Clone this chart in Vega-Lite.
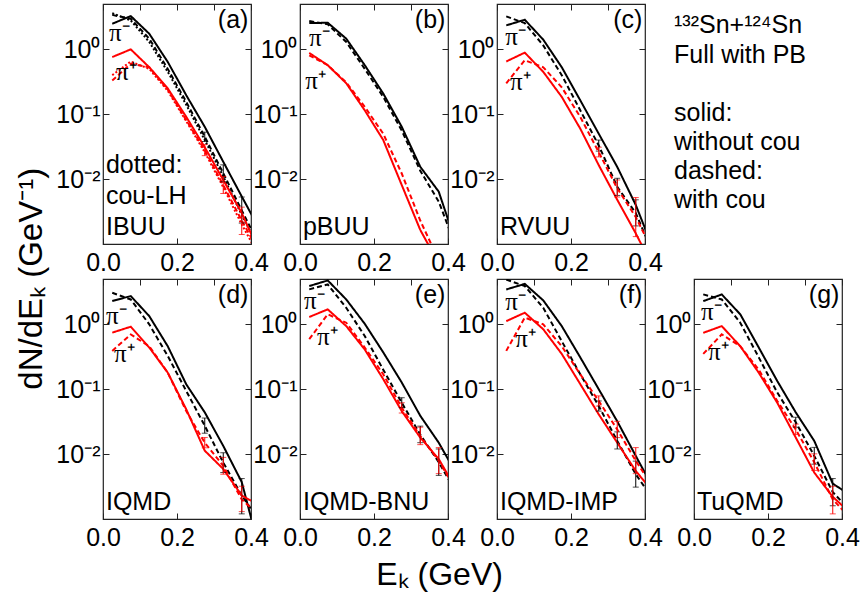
{
"$schema":"https://vega.github.io/schema/vega-lite/v6.json",
"background":"white",
"padding":{"left":16,"top":2,"right":2,"bottom":5},
"config":{
 "font":"Liberation Sans",
 "view":{"stroke":"#222","strokeWidth":1.2},
 "axis":{"grid":false,"domain":false,"tickSize":-6,"tickColor":"#222","tickWidth":1,"labelFontSize":25,"labelFont":"Liberation Sans","labelColor":"black","labelPadding":9},
 "axisX":{"labelPadding":12},
 "text":{"fontSize":25,"font":"Liberation Sans","color":"black","baseline":"alphabetic"},
 "title":{"fontWeight":"normal","color":"black","font":"Liberation Sans","fontSize":32}
},
"datasets":{
"curves":[
{"m":"a","c":"pi-","s":"solid","E":0.025,"v":2.48},{"m":"a","c":"pi-","s":"solid","E":0.075,"v":3.26},{"m":"a","c":"pi-","s":"solid","E":0.125,"v":1.74},{"m":"a","c":"pi-","s":"solid","E":0.175,"v":0.64},{"m":"a","c":"pi-","s":"solid","E":0.225,"v":0.196},{"m":"a","c":"pi-","s":"solid","E":0.275,"v":0.064},{"m":"a","c":"pi-","s":"solid","E":0.325,"v":0.0185},{"m":"a","c":"pi-","s":"solid","E":0.375,"v":0.0054},{"m":"a","c":"pi-","s":"solid","E":0.425,"v":0.0016},
{"m":"a","c":"pi-","s":"dashed","E":0.025,"v":3.4},{"m":"a","c":"pi-","s":"dashed","E":0.075,"v":2.96},{"m":"a","c":"pi-","s":"dashed","E":0.125,"v":1.46},{"m":"a","c":"pi-","s":"dashed","E":0.175,"v":0.5},{"m":"a","c":"pi-","s":"dashed","E":0.225,"v":0.155},{"m":"a","c":"pi-","s":"dashed","E":0.275,"v":0.045},{"m":"a","c":"pi-","s":"dashed","E":0.325,"v":0.0123},{"m":"a","c":"pi-","s":"dashed","E":0.375,"v":0.0033},{"m":"a","c":"pi-","s":"dashed","E":0.425,"v":0.0009},
{"m":"a","c":"pi-","s":"dotted","E":0.025,"v":3.6},{"m":"a","c":"pi-","s":"dotted","E":0.075,"v":2.8},{"m":"a","c":"pi-","s":"dotted","E":0.125,"v":1.3},{"m":"a","c":"pi-","s":"dotted","E":0.175,"v":0.45},{"m":"a","c":"pi-","s":"dotted","E":0.225,"v":0.14},{"m":"a","c":"pi-","s":"dotted","E":0.275,"v":0.04},{"m":"a","c":"pi-","s":"dotted","E":0.325,"v":0.011},{"m":"a","c":"pi-","s":"dotted","E":0.375,"v":0.0028},{"m":"a","c":"pi-","s":"dotted","E":0.425,"v":0.0008},
{"m":"a","c":"pi+","s":"solid","E":0.025,"v":0.76},{"m":"a","c":"pi+","s":"solid","E":0.075,"v":1.0},{"m":"a","c":"pi+","s":"solid","E":0.125,"v":0.53},{"m":"a","c":"pi+","s":"solid","E":0.175,"v":0.25},{"m":"a","c":"pi+","s":"solid","E":0.225,"v":0.091},{"m":"a","c":"pi+","s":"solid","E":0.275,"v":0.031},{"m":"a","c":"pi+","s":"solid","E":0.325,"v":0.0097},{"m":"a","c":"pi+","s":"solid","E":0.375,"v":0.003},{"m":"a","c":"pi+","s":"solid","E":0.425,"v":0.0007},
{"m":"a","c":"pi+","s":"dashed","E":0.025,"v":0.33},{"m":"a","c":"pi+","s":"dashed","E":0.075,"v":0.6},{"m":"a","c":"pi+","s":"dashed","E":0.125,"v":0.53},{"m":"a","c":"pi+","s":"dashed","E":0.175,"v":0.24},{"m":"a","c":"pi+","s":"dashed","E":0.225,"v":0.081},{"m":"a","c":"pi+","s":"dashed","E":0.275,"v":0.028},{"m":"a","c":"pi+","s":"dashed","E":0.325,"v":0.0081},{"m":"a","c":"pi+","s":"dashed","E":0.375,"v":0.0023},{"m":"a","c":"pi+","s":"dashed","E":0.425,"v":0.0007},
{"m":"a","c":"pi+","s":"dotted","E":0.025,"v":0.4},{"m":"a","c":"pi+","s":"dotted","E":0.075,"v":0.65},{"m":"a","c":"pi+","s":"dotted","E":0.125,"v":0.5},{"m":"a","c":"pi+","s":"dotted","E":0.175,"v":0.23},{"m":"a","c":"pi+","s":"dotted","E":0.225,"v":0.078},{"m":"a","c":"pi+","s":"dotted","E":0.275,"v":0.026},{"m":"a","c":"pi+","s":"dotted","E":0.325,"v":0.0075},{"m":"a","c":"pi+","s":"dotted","E":0.375,"v":0.002},{"m":"a","c":"pi+","s":"dotted","E":0.425,"v":0.0006},
{"m":"b","c":"pi-","s":"solid","E":0.025,"v":2.54},{"m":"b","c":"pi-","s":"solid","E":0.075,"v":2.57},{"m":"b","c":"pi-","s":"solid","E":0.125,"v":1.46},{"m":"b","c":"pi-","s":"solid","E":0.175,"v":0.57},{"m":"b","c":"pi-","s":"solid","E":0.225,"v":0.208},{"m":"b","c":"pi-","s":"solid","E":0.275,"v":0.064},{"m":"b","c":"pi-","s":"solid","E":0.325,"v":0.0155},{"m":"b","c":"pi-","s":"solid","E":0.375,"v":0.0064},{"m":"b","c":"pi-","s":"solid","E":0.425,"v":0.0009},
{"m":"b","c":"pi-","s":"dashed","E":0.025,"v":2.73},{"m":"b","c":"pi-","s":"dashed","E":0.075,"v":2.43},{"m":"b","c":"pi-","s":"dashed","E":0.125,"v":1.3},{"m":"b","c":"pi-","s":"dashed","E":0.175,"v":0.5},{"m":"b","c":"pi-","s":"dashed","E":0.225,"v":0.185},{"m":"b","c":"pi-","s":"dashed","E":0.275,"v":0.056},{"m":"b","c":"pi-","s":"dashed","E":0.325,"v":0.0135},{"m":"b","c":"pi-","s":"dashed","E":0.375,"v":0.0045},{"m":"b","c":"pi-","s":"dashed","E":0.425,"v":0.0008},
{"m":"b","c":"pi+","s":"solid","E":0.025,"v":0.88},{"m":"b","c":"pi+","s":"solid","E":0.075,"v":0.57},{"m":"b","c":"pi+","s":"solid","E":0.125,"v":0.3},{"m":"b","c":"pi+","s":"solid","E":0.175,"v":0.115},{"m":"b","c":"pi+","s":"solid","E":0.225,"v":0.04},{"m":"b","c":"pi+","s":"solid","E":0.275,"v":0.0081},{"m":"b","c":"pi+","s":"solid","E":0.325,"v":0.00165},{"m":"b","c":"pi+","s":"solid","E":0.375,"v":0.0005},{"m":"b","c":"pi+","s":"solid","E":0.425,"v":0.0002},
{"m":"b","c":"pi+","s":"dashed","E":0.025,"v":0.81},{"m":"b","c":"pi+","s":"dashed","E":0.075,"v":0.57},{"m":"b","c":"pi+","s":"dashed","E":0.125,"v":0.31},{"m":"b","c":"pi+","s":"dashed","E":0.175,"v":0.13},{"m":"b","c":"pi+","s":"dashed","E":0.225,"v":0.05},{"m":"b","c":"pi+","s":"dashed","E":0.275,"v":0.0122},{"m":"b","c":"pi+","s":"dashed","E":0.325,"v":0.0023},{"m":"b","c":"pi+","s":"dashed","E":0.375,"v":0.00056},{"m":"b","c":"pi+","s":"dashed","E":0.425,"v":0.0002},
{"m":"c","c":"pi-","s":"solid","E":0.025,"v":2.34},{"m":"c","c":"pi-","s":"solid","E":0.075,"v":2.86},{"m":"c","c":"pi-","s":"solid","E":0.125,"v":1.41},{"m":"c","c":"pi-","s":"solid","E":0.175,"v":0.53},{"m":"c","c":"pi-","s":"solid","E":0.225,"v":0.164},{"m":"c","c":"pi-","s":"solid","E":0.275,"v":0.05},{"m":"c","c":"pi-","s":"solid","E":0.325,"v":0.0154},{"m":"c","c":"pi-","s":"solid","E":0.375,"v":0.004},{"m":"c","c":"pi-","s":"solid","E":0.425,"v":0.00076},
{"m":"c","c":"pi-","s":"dashed","E":0.025,"v":3.22},{"m":"c","c":"pi-","s":"dashed","E":0.075,"v":2.54},{"m":"c","c":"pi-","s":"dashed","E":0.125,"v":1.15},{"m":"c","c":"pi-","s":"dashed","E":0.175,"v":0.4},{"m":"c","c":"pi-","s":"dashed","E":0.225,"v":0.115},{"m":"c","c":"pi-","s":"dashed","E":0.275,"v":0.033},{"m":"c","c":"pi-","s":"dashed","E":0.325,"v":0.0076},{"m":"c","c":"pi-","s":"dashed","E":0.375,"v":0.003},{"m":"c","c":"pi-","s":"dashed","E":0.425,"v":0.00064},
{"m":"c","c":"pi+","s":"solid","E":0.025,"v":0.65},{"m":"c","c":"pi+","s":"solid","E":0.075,"v":0.89},{"m":"c","c":"pi+","s":"solid","E":0.125,"v":0.45},{"m":"c","c":"pi+","s":"solid","E":0.175,"v":0.185},{"m":"c","c":"pi+","s":"solid","E":0.225,"v":0.06},{"m":"c","c":"pi+","s":"solid","E":0.275,"v":0.0164},{"m":"c","c":"pi+","s":"solid","E":0.325,"v":0.0048},{"m":"c","c":"pi+","s":"solid","E":0.375,"v":0.00146},{"m":"c","c":"pi+","s":"solid","E":0.425,"v":0.0004},
{"m":"c","c":"pi+","s":"dashed","E":0.025,"v":0.3},{"m":"c","c":"pi+","s":"dashed","E":0.075,"v":0.68},{"m":"c","c":"pi+","s":"dashed","E":0.125,"v":0.53},{"m":"c","c":"pi+","s":"dashed","E":0.175,"v":0.26},{"m":"c","c":"pi+","s":"dashed","E":0.225,"v":0.091},{"m":"c","c":"pi+","s":"dashed","E":0.275,"v":0.026},{"m":"c","c":"pi+","s":"dashed","E":0.325,"v":0.0072},{"m":"c","c":"pi+","s":"dashed","E":0.375,"v":0.0026},{"m":"c","c":"pi+","s":"dashed","E":0.425,"v":0.0007},
{"m":"d","c":"pi-","s":"solid","E":0.025,"v":2.29},{"m":"d","c":"pi-","s":"solid","E":0.075,"v":2.73},{"m":"d","c":"pi-","s":"solid","E":0.125,"v":1.34},{"m":"d","c":"pi-","s":"solid","E":0.175,"v":0.46},{"m":"d","c":"pi-","s":"solid","E":0.225,"v":0.119},{"m":"d","c":"pi-","s":"solid","E":0.275,"v":0.044},{"m":"d","c":"pi-","s":"solid","E":0.325,"v":0.0134},{"m":"d","c":"pi-","s":"solid","E":0.375,"v":0.0037},{"m":"d","c":"pi-","s":"solid","E":0.425,"v":0.0003},
{"m":"d","c":"pi-","s":"dashed","E":0.025,"v":3.07},{"m":"d","c":"pi-","s":"dashed","E":0.075,"v":2.42},{"m":"d","c":"pi-","s":"dashed","E":0.125,"v":1.0},{"m":"d","c":"pi-","s":"dashed","E":0.175,"v":0.326},{"m":"d","c":"pi-","s":"dashed","E":0.225,"v":0.094},{"m":"d","c":"pi-","s":"dashed","E":0.275,"v":0.0274},{"m":"d","c":"pi-","s":"dashed","E":0.325,"v":0.0074},{"m":"d","c":"pi-","s":"dashed","E":0.375,"v":0.0023},{"m":"d","c":"pi-","s":"dashed","E":0.425,"v":0.0009},
{"m":"d","c":"pi+","s":"solid","E":0.025,"v":0.745},{"m":"d","c":"pi+","s":"solid","E":0.075,"v":0.92},{"m":"d","c":"pi+","s":"solid","E":0.125,"v":0.44},{"m":"d","c":"pi+","s":"solid","E":0.175,"v":0.18},{"m":"d","c":"pi+","s":"solid","E":0.225,"v":0.049},{"m":"d","c":"pi+","s":"solid","E":0.275,"v":0.0113},{"m":"d","c":"pi+","s":"solid","E":0.325,"v":0.0059},{"m":"d","c":"pi+","s":"solid","E":0.375,"v":0.0023},{"m":"d","c":"pi+","s":"solid","E":0.425,"v":0.0016},
{"m":"d","c":"pi+","s":"dashed","E":0.025,"v":0.39},{"m":"d","c":"pi+","s":"dashed","E":0.075,"v":0.7},{"m":"d","c":"pi+","s":"dashed","E":0.125,"v":0.46},{"m":"d","c":"pi+","s":"dashed","E":0.175,"v":0.18},{"m":"d","c":"pi+","s":"dashed","E":0.225,"v":0.046},{"m":"d","c":"pi+","s":"dashed","E":0.275,"v":0.015},{"m":"d","c":"pi+","s":"dashed","E":0.325,"v":0.0066},{"m":"d","c":"pi+","s":"dashed","E":0.375,"v":0.002},{"m":"d","c":"pi+","s":"dashed","E":0.425,"v":0.0011},
{"m":"e","c":"pi-","s":"solid","E":0.025,"v":3.89},{"m":"e","c":"pi-","s":"solid","E":0.075,"v":4.75},{"m":"e","c":"pi-","s":"solid","E":0.125,"v":2.42},{"m":"e","c":"pi-","s":"solid","E":0.175,"v":1.02},{"m":"e","c":"pi-","s":"solid","E":0.225,"v":0.37},{"m":"e","c":"pi-","s":"solid","E":0.275,"v":0.127},{"m":"e","c":"pi-","s":"solid","E":0.325,"v":0.039},{"m":"e","c":"pi-","s":"solid","E":0.375,"v":0.015},{"m":"e","c":"pi-","s":"solid","E":0.425,"v":0.0047},
{"m":"e","c":"pi-","s":"dashed","E":0.025,"v":3.46},{"m":"e","c":"pi-","s":"dashed","E":0.075,"v":4.12},{"m":"e","c":"pi-","s":"dashed","E":0.125,"v":1.8},{"m":"e","c":"pi-","s":"dashed","E":0.175,"v":0.66},{"m":"e","c":"pi-","s":"dashed","E":0.225,"v":0.2},{"m":"e","c":"pi-","s":"dashed","E":0.275,"v":0.062},{"m":"e","c":"pi-","s":"dashed","E":0.325,"v":0.02},{"m":"e","c":"pi-","s":"dashed","E":0.375,"v":0.0075},{"m":"e","c":"pi-","s":"dashed","E":0.425,"v":0.0024},
{"m":"e","c":"pi+","s":"solid","E":0.025,"v":1.3},{"m":"e","c":"pi+","s":"solid","E":0.075,"v":1.7},{"m":"e","c":"pi+","s":"solid","E":0.125,"v":0.94},{"m":"e","c":"pi+","s":"solid","E":0.175,"v":0.41},{"m":"e","c":"pi+","s":"solid","E":0.225,"v":0.143},{"m":"e","c":"pi+","s":"solid","E":0.275,"v":0.046},{"m":"e","c":"pi+","s":"solid","E":0.325,"v":0.018},{"m":"e","c":"pi+","s":"solid","E":0.375,"v":0.0084},{"m":"e","c":"pi+","s":"solid","E":0.425,"v":0.0027},
{"m":"e","c":"pi+","s":"dashed","E":0.025,"v":0.59},{"m":"e","c":"pi+","s":"dashed","E":0.075,"v":1.43},{"m":"e","c":"pi+","s":"dashed","E":0.125,"v":1.06},{"m":"e","c":"pi+","s":"dashed","E":0.175,"v":0.44},{"m":"e","c":"pi+","s":"dashed","E":0.225,"v":0.17},{"m":"e","c":"pi+","s":"dashed","E":0.275,"v":0.052},{"m":"e","c":"pi+","s":"dashed","E":0.325,"v":0.019},{"m":"e","c":"pi+","s":"dashed","E":0.375,"v":0.0079},{"m":"e","c":"pi+","s":"dashed","E":0.425,"v":0.0026},
{"m":"f","c":"pi-","s":"solid","E":0.025,"v":3.45},{"m":"f","c":"pi-","s":"solid","E":0.075,"v":4.2},{"m":"f","c":"pi-","s":"solid","E":0.125,"v":2.34},{"m":"f","c":"pi-","s":"solid","E":0.175,"v":0.94},{"m":"f","c":"pi-","s":"solid","E":0.225,"v":0.31},{"m":"f","c":"pi-","s":"solid","E":0.275,"v":0.1},{"m":"f","c":"pi-","s":"solid","E":0.325,"v":0.032},{"m":"f","c":"pi-","s":"solid","E":0.375,"v":0.0094},{"m":"f","c":"pi-","s":"solid","E":0.425,"v":0.0028},
{"m":"f","c":"pi-","s":"dashed","E":0.025,"v":4.9},{"m":"f","c":"pi-","s":"dashed","E":0.075,"v":3.9},{"m":"f","c":"pi-","s":"dashed","E":0.125,"v":1.8},{"m":"f","c":"pi-","s":"dashed","E":0.175,"v":0.55},{"m":"f","c":"pi-","s":"dashed","E":0.225,"v":0.17},{"m":"f","c":"pi-","s":"dashed","E":0.275,"v":0.055},{"m":"f","c":"pi-","s":"dashed","E":0.325,"v":0.016},{"m":"f","c":"pi-","s":"dashed","E":0.375,"v":0.0049},{"m":"f","c":"pi-","s":"dashed","E":0.425,"v":0.0019},
{"m":"f","c":"pi+","s":"solid","E":0.025,"v":1.12},{"m":"f","c":"pi+","s":"solid","E":0.075,"v":1.51},{"m":"f","c":"pi+","s":"solid","E":0.125,"v":0.84},{"m":"f","c":"pi+","s":"solid","E":0.175,"v":0.35},{"m":"f","c":"pi+","s":"solid","E":0.225,"v":0.12},{"m":"f","c":"pi+","s":"solid","E":0.275,"v":0.041},{"m":"f","c":"pi+","s":"solid","E":0.325,"v":0.015},{"m":"f","c":"pi+","s":"solid","E":0.375,"v":0.0055},{"m":"f","c":"pi+","s":"solid","E":0.425,"v":0.0025},
{"m":"f","c":"pi+","s":"dashed","E":0.025,"v":0.39},{"m":"f","c":"pi+","s":"dashed","E":0.075,"v":1.27},{"m":"f","c":"pi+","s":"dashed","E":0.125,"v":1.0},{"m":"f","c":"pi+","s":"dashed","E":0.175,"v":0.46},{"m":"f","c":"pi+","s":"dashed","E":0.225,"v":0.17},{"m":"f","c":"pi+","s":"dashed","E":0.275,"v":0.066},{"m":"f","c":"pi+","s":"dashed","E":0.325,"v":0.024},{"m":"f","c":"pi+","s":"dashed","E":0.375,"v":0.0079},{"m":"f","c":"pi+","s":"dashed","E":0.425,"v":0.0029},
{"m":"g","c":"pi-","s":"solid","E":0.025,"v":2.28},{"m":"g","c":"pi-","s":"solid","E":0.075,"v":2.89},{"m":"g","c":"pi-","s":"solid","E":0.125,"v":1.43},{"m":"g","c":"pi-","s":"solid","E":0.175,"v":0.44},{"m":"g","c":"pi-","s":"solid","E":0.225,"v":0.134},{"m":"g","c":"pi-","s":"solid","E":0.275,"v":0.044},{"m":"g","c":"pi-","s":"solid","E":0.325,"v":0.016},{"m":"g","c":"pi-","s":"solid","E":0.375,"v":0.0035},{"m":"g","c":"pi-","s":"solid","E":0.425,"v":0.0023},
{"m":"g","c":"pi-","s":"dashed","E":0.025,"v":2.9},{"m":"g","c":"pi-","s":"dashed","E":0.075,"v":2.42},{"m":"g","c":"pi-","s":"dashed","E":0.125,"v":1.06},{"m":"g","c":"pi-","s":"dashed","E":0.175,"v":0.31},{"m":"g","c":"pi-","s":"dashed","E":0.225,"v":0.089},{"m":"g","c":"pi-","s":"dashed","E":0.275,"v":0.031},{"m":"g","c":"pi-","s":"dashed","E":0.325,"v":0.0094},{"m":"g","c":"pi-","s":"dashed","E":0.375,"v":0.0026},{"m":"g","c":"pi-","s":"dashed","E":0.425,"v":0.0013},
{"m":"g","c":"pi+","s":"solid","E":0.025,"v":0.74},{"m":"g","c":"pi+","s":"solid","E":0.075,"v":0.94},{"m":"g","c":"pi+","s":"solid","E":0.125,"v":0.46},{"m":"g","c":"pi+","s":"solid","E":0.175,"v":0.18},{"m":"g","c":"pi+","s":"solid","E":0.225,"v":0.062},{"m":"g","c":"pi+","s":"solid","E":0.275,"v":0.018},{"m":"g","c":"pi+","s":"solid","E":0.325,"v":0.0052},{"m":"g","c":"pi+","s":"solid","E":0.375,"v":0.0022},{"m":"g","c":"pi+","s":"solid","E":0.425,"v":0.0012},
{"m":"g","c":"pi+","s":"dashed","E":0.025,"v":0.35},{"m":"g","c":"pi+","s":"dashed","E":0.075,"v":0.7},{"m":"g","c":"pi+","s":"dashed","E":0.125,"v":0.46},{"m":"g","c":"pi+","s":"dashed","E":0.175,"v":0.2},{"m":"g","c":"pi+","s":"dashed","E":0.225,"v":0.066},{"m":"g","c":"pi+","s":"dashed","E":0.275,"v":0.024},{"m":"g","c":"pi+","s":"dashed","E":0.325,"v":0.0075},{"m":"g","c":"pi+","s":"dashed","E":0.375,"v":0.002},{"m":"g","c":"pi+","s":"dashed","E":0.425,"v":0.001}
],
"err":[
{"m":"a","c":"pi-","E":0.275,"lo":0.038,"hi":0.053},{"m":"a","c":"pi-","E":0.325,"lo":0.0091,"hi":0.0166},{"m":"a","c":"pi-","E":0.375,"lo":0.0021,"hi":0.0053},
{"m":"a","c":"pi+","E":0.275,"lo":0.023,"hi":0.034},{"m":"a","c":"pi+","E":0.325,"lo":0.006,"hi":0.011},{"m":"a","c":"pi+","E":0.375,"lo":0.0014,"hi":0.0037},
{"m":"c","c":"pi-","E":0.275,"lo":0.027,"hi":0.04},{"m":"c","c":"pi-","E":0.325,"lo":0.0056,"hi":0.0103},{"m":"c","c":"pi-","E":0.375,"lo":0.0019,"hi":0.0048},
{"m":"c","c":"pi+","E":0.275,"lo":0.022,"hi":0.031},{"m":"c","c":"pi+","E":0.325,"lo":0.0053,"hi":0.0097},{"m":"c","c":"pi+","E":0.375,"lo":0.0013,"hi":0.0052},
{"m":"d","c":"pi-","E":0.275,"lo":0.021,"hi":0.036},{"m":"d","c":"pi-","E":0.325,"lo":0.0052,"hi":0.0105},{"m":"d","c":"pi-","E":0.375,"lo":0.0012,"hi":0.0042},
{"m":"d","c":"pi+","E":0.275,"lo":0.0125,"hi":0.018},{"m":"d","c":"pi+","E":0.325,"lo":0.0049,"hi":0.0089},{"m":"d","c":"pi+","E":0.375,"lo":0.0013,"hi":0.0032},
{"m":"e","c":"pi-","E":0.275,"lo":0.052,"hi":0.074},{"m":"e","c":"pi-","E":0.325,"lo":0.015,"hi":0.027},{"m":"e","c":"pi-","E":0.375,"lo":0.0047,"hi":0.012},
{"m":"e","c":"pi+","E":0.275,"lo":0.043,"hi":0.062},{"m":"e","c":"pi+","E":0.325,"lo":0.014,"hi":0.026},{"m":"e","c":"pi+","E":0.375,"lo":0.005,"hi":0.0126},
{"m":"f","c":"pi-","E":0.275,"lo":0.046,"hi":0.066},{"m":"f","c":"pi-","E":0.325,"lo":0.012,"hi":0.022},{"m":"f","c":"pi-","E":0.375,"lo":0.0031,"hi":0.0078},
{"m":"f","c":"pi+","E":0.275,"lo":0.055,"hi":0.079},{"m":"f","c":"pi+","E":0.325,"lo":0.018,"hi":0.032},{"m":"f","c":"pi+","E":0.375,"lo":0.005,"hi":0.0126},
{"m":"g","c":"pi-","E":0.275,"lo":0.026,"hi":0.037},{"m":"g","c":"pi-","E":0.325,"lo":0.007,"hi":0.0127},{"m":"g","c":"pi-","E":0.375,"lo":0.0016,"hi":0.0042},
{"m":"g","c":"pi+","E":0.275,"lo":0.02,"hi":0.029},{"m":"g","c":"pi+","E":0.325,"lo":0.0056,"hi":0.0101},{"m":"g","c":"pi+","E":0.375,"lo":0.0012,"hi":0.0032}
]
},
"title":{"text":"dN/dEₖ (GeV⁻¹)","orient":"left","anchor":"middle","offset":6,"fontSize":33,"dx":18},
"spacing":1,
"vconcat":[
{"hconcat":[
{"width":148,"height":240,"layer":[{"layer":[
 {"data":{"name":"curves"},"transform":[{"filter":"datum.m=='a'"}],"mark":{"type":"line","strokeWidth":2,"clip":true},"encoding":{"x":{"field":"E","type":"quantitative","scale":{"domain":[0,0.4],"nice":false},"axis":{"values":[0,0.1,0.2,0.3,0.4],"format":".1f","labelExpr":"round(datum.value*10)%2==0 ? datum.label : ''","labelFlush":false,"labelOverlap":false,"title":null}},"y":{"field":"v","type":"quantitative","scale":{"type":"log","domain":[0.001,5],"nice":false},"axis":{"values":[1,0.1,0.01],"labelExpr":"datum.value>0.5?'10⁰':datum.value>0.05?'10⁻¹':'10⁻²'","title":null}},"color":{"field":"c","type":"nominal","scale":{"domain":["pi-","pi+"],"range":["black","#ff0000"]},"legend":null},"strokeDash":{"field":"s","type":"nominal","scale":{"domain":["solid","dashed","dotted"],"range":[[1,0],[5,3],[2,2]]},"legend":null}}},
 {"data":{"name":"err"},"transform":[{"filter":"datum.m=='a'"}],"mark":{"type":"errorbar","ticks":{"size":6,"thickness":1},"rule":{"strokeWidth":1}},"encoding":{"x":{"field":"E","type":"quantitative","title":null},"y":{"field":"lo","type":"quantitative","title":null},"y2":{"field":"hi"},"color":{"field":"c","type":"nominal","legend":null}}},
 {"data":{"values":[{}]},"mark":{"type":"text","align":"right"},"encoding":{"x":{"datum":0.393},"y":{"datum":2.15},"text":{"value":"(a)"}}},
 {"data":{"values":[{}]},"mark":{"type":"text","align":"left"},"encoding":{"x":{"datum":0.008},"y":{"datum":0.00137},"text":{"value":"IBUU"}}},
 {"data":{"values":[{}]},"mark":{"type":"text","align":"left"},"encoding":{"x":{"datum":0.008},"y":{"datum":0.0124},"text":{"value":"dotted:"}}},
 {"data":{"values":[{}]},"mark":{"type":"text","align":"left"},"encoding":{"x":{"datum":0.008},"y":{"datum":0.0041},"text":{"value":"cou-LH"}}},
 {"data":{"values":[{}]},"mark":{"type":"text","align":"left","baseline":"middle","font":"Liberation Serif"},"encoding":{"x":{"datum":0.016},"y":{"datum":1.76},"text":{"value":"π⁻"}}},
 {"data":{"values":[{}]},"mark":{"type":"text","align":"left","baseline":"middle","font":"Liberation Serif"},"encoding":{"x":{"datum":0.035},"y":{"datum":0.44},"text":{"value":"π⁺"}}}
]},
 {"data":{"values":[{}]},"mark":{"type":"point","opacity":0},"encoding":{"x":{"datum":0.2,"type":"quantitative","axis":{"orient":"top","labels":false,"values":[0,0.1,0.2,0.3,0.4],"title":null}},"y":{"datum":0.1,"type":"quantitative","axis":{"orient":"right","labels":false,"values":[1,0.1,0.01],"title":null}}}}
],"resolve":{"axis":{"x":"independent","y":"independent"}}},
{"width":148,"height":240,"layer":[{"layer":[
 {"data":{"name":"curves"},"transform":[{"filter":"datum.m=='b'"}],"mark":{"type":"line","strokeWidth":2,"clip":true},"encoding":{"x":{"field":"E","type":"quantitative","scale":{"domain":[0,0.4],"nice":false},"axis":{"values":[0,0.1,0.2,0.3,0.4],"format":".1f","labelExpr":"round(datum.value*10)%2==0 ? datum.label : ''","labelFlush":false,"labelOverlap":false,"title":null}},"y":{"field":"v","type":"quantitative","scale":{"type":"log","domain":[0.001,5],"nice":false},"axis":{"values":[1,0.1,0.01],"labelExpr":"datum.value>0.5?'10⁰':datum.value>0.05?'10⁻¹':'10⁻²'","title":null}},"color":{"field":"c","type":"nominal","scale":{"domain":["pi-","pi+"],"range":["black","#ff0000"]},"legend":null},"strokeDash":{"field":"s","type":"nominal","scale":{"domain":["solid","dashed","dotted"],"range":[[1,0],[5,3],[2,2]]},"legend":null}}},
 {"data":{"values":[{}]},"mark":{"type":"text","align":"right"},"encoding":{"x":{"datum":0.393},"y":{"datum":2.15},"text":{"value":"(b)"}}},
 {"data":{"values":[{}]},"mark":{"type":"text","align":"left"},"encoding":{"x":{"datum":0.008},"y":{"datum":0.00137},"text":{"value":"pBUU"}}},
 {"data":{"values":[{}]},"mark":{"type":"text","align":"left","baseline":"middle","font":"Liberation Serif"},"encoding":{"x":{"datum":0.024},"y":{"datum":1.48},"text":{"value":"π⁻"}}},
 {"data":{"values":[{}]},"mark":{"type":"text","align":"left","baseline":"middle","font":"Liberation Serif"},"encoding":{"x":{"datum":0.014},"y":{"datum":0.33},"text":{"value":"π⁺"}}}
]},
 {"data":{"values":[{}]},"mark":{"type":"point","opacity":0},"encoding":{"x":{"datum":0.2,"type":"quantitative","axis":{"orient":"top","labels":false,"values":[0,0.1,0.2,0.3,0.4],"title":null}},"y":{"datum":0.1,"type":"quantitative","axis":{"orient":"right","labels":false,"values":[1,0.1,0.01],"title":null}}}}
],"resolve":{"axis":{"x":"independent","y":"independent"}}},
{"width":148,"height":240,"layer":[{"layer":[
 {"data":{"name":"curves"},"transform":[{"filter":"datum.m=='c'"}],"mark":{"type":"line","strokeWidth":2,"clip":true},"encoding":{"x":{"field":"E","type":"quantitative","scale":{"domain":[0,0.4],"nice":false},"axis":{"values":[0,0.1,0.2,0.3,0.4],"format":".1f","labelExpr":"round(datum.value*10)%2==0 ? datum.label : ''","labelFlush":false,"labelOverlap":false,"title":null}},"y":{"field":"v","type":"quantitative","scale":{"type":"log","domain":[0.001,5],"nice":false},"axis":{"values":[1,0.1,0.01],"labelExpr":"datum.value>0.5?'10⁰':datum.value>0.05?'10⁻¹':'10⁻²'","title":null}},"color":{"field":"c","type":"nominal","scale":{"domain":["pi-","pi+"],"range":["black","#ff0000"]},"legend":null},"strokeDash":{"field":"s","type":"nominal","scale":{"domain":["solid","dashed","dotted"],"range":[[1,0],[5,3],[2,2]]},"legend":null}}},
 {"data":{"name":"err"},"transform":[{"filter":"datum.m=='c'"}],"mark":{"type":"errorbar","ticks":{"size":6,"thickness":1},"rule":{"strokeWidth":1}},"encoding":{"x":{"field":"E","type":"quantitative","title":null},"y":{"field":"lo","type":"quantitative","title":null},"y2":{"field":"hi"},"color":{"field":"c","type":"nominal","legend":null}}},
 {"data":{"values":[{}]},"mark":{"type":"text","align":"right"},"encoding":{"x":{"datum":0.393},"y":{"datum":2.15},"text":{"value":"(c)"}}},
 {"data":{"values":[{}]},"mark":{"type":"text","align":"left"},"encoding":{"x":{"datum":0.008},"y":{"datum":0.00137},"text":{"value":"RVUU"}}},
 {"data":{"values":[{}]},"mark":{"type":"text","align":"left","baseline":"middle","font":"Liberation Serif"},"encoding":{"x":{"datum":0.022},"y":{"datum":1.53},"text":{"value":"π⁻"}}},
 {"data":{"values":[{}]},"mark":{"type":"text","align":"left","baseline":"middle","font":"Liberation Serif"},"encoding":{"x":{"datum":0.035},"y":{"datum":0.31},"text":{"value":"π⁺"}}}
]},
 {"data":{"values":[{}]},"mark":{"type":"point","opacity":0},"encoding":{"x":{"datum":0.2,"type":"quantitative","axis":{"orient":"top","labels":false,"values":[0,0.1,0.2,0.3,0.4],"title":null}},"y":{"datum":0.1,"type":"quantitative","axis":{"orient":"right","labels":false,"values":[1,0.1,0.01],"title":null}}}}
],"resolve":{"axis":{"x":"independent","y":"independent"}}},
{"width":148,"height":240,"view":{"stroke":null},
 "data":{"values":[{"n":1,"t":"¹³²Sn+¹²⁴Sn"},{"n":2,"t":"Full with PB"},{"n":4,"t":"solid:"},{"n":5,"t":"without cou"},{"n":6,"t":"dashed:"},{"n":7,"t":"with cou"}]},
 "mark":{"type":"text","align":"left","baseline":"middle","dx":-20},
 "encoding":{"x":{"datum":0,"type":"quantitative","scale":{"domain":[0,1]},"axis":null},"y":{"field":"n","type":"quantitative","scale":{"domain":[0.27,8.49],"reverse":true,"nice":false},"axis":null},"text":{"field":"t"}}}
],"spacing":49,"bounds":"flush"},
{"hconcat":[
{"width":148,"height":240,"layer":[{"layer":[
 {"data":{"name":"curves"},"transform":[{"filter":"datum.m=='d'"}],"mark":{"type":"line","strokeWidth":2,"clip":true},"encoding":{"x":{"field":"E","type":"quantitative","scale":{"domain":[0,0.4],"nice":false},"axis":{"values":[0,0.1,0.2,0.3,0.4],"format":".1f","labelExpr":"round(datum.value*10)%2==0 ? datum.label : ''","labelFlush":false,"labelOverlap":false,"title":null}},"y":{"field":"v","type":"quantitative","scale":{"type":"log","domain":[0.001,5],"nice":false},"axis":{"values":[1,0.1,0.01],"labelExpr":"datum.value>0.5?'10⁰':datum.value>0.05?'10⁻¹':'10⁻²'","title":null}},"color":{"field":"c","type":"nominal","scale":{"domain":["pi-","pi+"],"range":["black","#ff0000"]},"legend":null},"strokeDash":{"field":"s","type":"nominal","scale":{"domain":["solid","dashed","dotted"],"range":[[1,0],[5,3],[2,2]]},"legend":null}}},
 {"data":{"name":"err"},"transform":[{"filter":"datum.m=='d'"}],"mark":{"type":"errorbar","ticks":{"size":6,"thickness":1},"rule":{"strokeWidth":1}},"encoding":{"x":{"field":"E","type":"quantitative","title":null},"y":{"field":"lo","type":"quantitative","title":null},"y2":{"field":"hi"},"color":{"field":"c","type":"nominal","legend":null}}},
 {"data":{"values":[{}]},"mark":{"type":"text","align":"right"},"encoding":{"x":{"datum":0.393},"y":{"datum":2.15},"text":{"value":"(d)"}}},
 {"data":{"values":[{}]},"mark":{"type":"text","align":"left"},"encoding":{"x":{"datum":0.008},"y":{"datum":0.00137},"text":{"value":"IQMD"}}},
 {"data":{"values":[{}]},"mark":{"type":"text","align":"left","baseline":"middle","font":"Liberation Serif"},"encoding":{"x":{"datum":0.008},"y":{"datum":1.33},"text":{"value":"π⁻"}}},
 {"data":{"values":[{}]},"mark":{"type":"text","align":"left","baseline":"middle","font":"Liberation Serif"},"encoding":{"x":{"datum":0.03},"y":{"datum":0.35},"text":{"value":"π⁺"}}}
]},
 {"data":{"values":[{}]},"mark":{"type":"point","opacity":0},"encoding":{"x":{"datum":0.2,"type":"quantitative","axis":{"orient":"top","labels":false,"values":[0,0.1,0.2,0.3,0.4],"title":null}},"y":{"datum":0.1,"type":"quantitative","axis":{"orient":"right","labels":false,"values":[1,0.1,0.01],"title":null}}}}
],"resolve":{"axis":{"x":"independent","y":"independent"}}},
{"width":148,"height":240,"layer":[{"layer":[
 {"data":{"name":"curves"},"transform":[{"filter":"datum.m=='e'"}],"mark":{"type":"line","strokeWidth":2,"clip":true},"encoding":{"x":{"field":"E","type":"quantitative","scale":{"domain":[0,0.4],"nice":false},"axis":{"values":[0,0.1,0.2,0.3,0.4],"format":".1f","labelExpr":"round(datum.value*10)%2==0 ? datum.label : ''","labelFlush":false,"labelOverlap":false,"title":null}},"y":{"field":"v","type":"quantitative","scale":{"type":"log","domain":[0.001,5],"nice":false},"axis":{"values":[1,0.1,0.01],"labelExpr":"datum.value>0.5?'10⁰':datum.value>0.05?'10⁻¹':'10⁻²'","title":null}},"color":{"field":"c","type":"nominal","scale":{"domain":["pi-","pi+"],"range":["black","#ff0000"]},"legend":null},"strokeDash":{"field":"s","type":"nominal","scale":{"domain":["solid","dashed","dotted"],"range":[[1,0],[5,3],[2,2]]},"legend":null}}},
 {"data":{"name":"err"},"transform":[{"filter":"datum.m=='e'"}],"mark":{"type":"errorbar","ticks":{"size":6,"thickness":1},"rule":{"strokeWidth":1}},"encoding":{"x":{"field":"E","type":"quantitative","title":null},"y":{"field":"lo","type":"quantitative","title":null},"y2":{"field":"hi"},"color":{"field":"c","type":"nominal","legend":null}}},
 {"data":{"values":[{}]},"mark":{"type":"text","align":"right"},"encoding":{"x":{"datum":0.393},"y":{"datum":2.15},"text":{"value":"(e)"}}},
 {"data":{"values":[{}]},"mark":{"type":"text","align":"left"},"encoding":{"x":{"datum":0.008},"y":{"datum":0.00137},"text":{"value":"IQMD-BNU"}}},
 {"data":{"values":[{}]},"mark":{"type":"text","align":"left","baseline":"middle","font":"Liberation Serif"},"encoding":{"x":{"datum":0.011},"y":{"datum":2.26},"text":{"value":"π⁻"}}},
 {"data":{"values":[{}]},"mark":{"type":"text","align":"left","baseline":"middle","font":"Liberation Serif"},"encoding":{"x":{"datum":0.046},"y":{"datum":0.63},"text":{"value":"π⁺"}}}
]},
 {"data":{"values":[{}]},"mark":{"type":"point","opacity":0},"encoding":{"x":{"datum":0.2,"type":"quantitative","axis":{"orient":"top","labels":false,"values":[0,0.1,0.2,0.3,0.4],"title":null}},"y":{"datum":0.1,"type":"quantitative","axis":{"orient":"right","labels":false,"values":[1,0.1,0.01],"title":null}}}}
],"resolve":{"axis":{"x":"independent","y":"independent"}}},
{"width":148,"height":240,"layer":[{"layer":[
 {"data":{"name":"curves"},"transform":[{"filter":"datum.m=='f'"}],"mark":{"type":"line","strokeWidth":2,"clip":true},"encoding":{"x":{"field":"E","type":"quantitative","scale":{"domain":[0,0.4],"nice":false},"axis":{"values":[0,0.1,0.2,0.3,0.4],"format":".1f","labelExpr":"round(datum.value*10)%2==0 ? datum.label : ''","labelFlush":false,"labelOverlap":false,"title":null}},"y":{"field":"v","type":"quantitative","scale":{"type":"log","domain":[0.001,5],"nice":false},"axis":{"values":[1,0.1,0.01],"labelExpr":"datum.value>0.5?'10⁰':datum.value>0.05?'10⁻¹':'10⁻²'","title":null}},"color":{"field":"c","type":"nominal","scale":{"domain":["pi-","pi+"],"range":["black","#ff0000"]},"legend":null},"strokeDash":{"field":"s","type":"nominal","scale":{"domain":["solid","dashed","dotted"],"range":[[1,0],[5,3],[2,2]]},"legend":null}}},
 {"data":{"name":"err"},"transform":[{"filter":"datum.m=='f'"}],"mark":{"type":"errorbar","ticks":{"size":6,"thickness":1},"rule":{"strokeWidth":1}},"encoding":{"x":{"field":"E","type":"quantitative","title":null},"y":{"field":"lo","type":"quantitative","title":null},"y2":{"field":"hi"},"color":{"field":"c","type":"nominal","legend":null}}},
 {"data":{"values":[{}]},"mark":{"type":"text","align":"right"},"encoding":{"x":{"datum":0.393},"y":{"datum":2.15},"text":{"value":"(f)"}}},
 {"data":{"values":[{}]},"mark":{"type":"text","align":"left"},"encoding":{"x":{"datum":0.008},"y":{"datum":0.00137},"text":{"value":"IQMD-IMP"}}},
 {"data":{"values":[{}]},"mark":{"type":"text","align":"left","baseline":"middle","font":"Liberation Serif"},"encoding":{"x":{"datum":0.022},"y":{"datum":2.18},"text":{"value":"π⁻"}}},
 {"data":{"values":[{}]},"mark":{"type":"text","align":"left","baseline":"middle","font":"Liberation Serif"},"encoding":{"x":{"datum":0.049},"y":{"datum":0.59},"text":{"value":"π⁺"}}}
]},
 {"data":{"values":[{}]},"mark":{"type":"point","opacity":0},"encoding":{"x":{"datum":0.2,"type":"quantitative","axis":{"orient":"top","labels":false,"values":[0,0.1,0.2,0.3,0.4],"title":null}},"y":{"datum":0.1,"type":"quantitative","axis":{"orient":"right","labels":false,"values":[1,0.1,0.01],"title":null}}}}
],"resolve":{"axis":{"x":"independent","y":"independent"}}},
{"width":148,"height":240,"layer":[{"layer":[
 {"data":{"name":"curves"},"transform":[{"filter":"datum.m=='g'"}],"mark":{"type":"line","strokeWidth":2,"clip":true},"encoding":{"x":{"field":"E","type":"quantitative","scale":{"domain":[0,0.4],"nice":false},"axis":{"values":[0,0.1,0.2,0.3,0.4],"format":".1f","labelExpr":"round(datum.value*10)%2==0 ? datum.label : ''","labelFlush":false,"labelOverlap":false,"title":null}},"y":{"field":"v","type":"quantitative","scale":{"type":"log","domain":[0.001,5],"nice":false},"axis":{"values":[1,0.1,0.01],"labelExpr":"datum.value>0.5?'10⁰':datum.value>0.05?'10⁻¹':'10⁻²'","title":null}},"color":{"field":"c","type":"nominal","scale":{"domain":["pi-","pi+"],"range":["black","#ff0000"]},"legend":null},"strokeDash":{"field":"s","type":"nominal","scale":{"domain":["solid","dashed","dotted"],"range":[[1,0],[5,3],[2,2]]},"legend":null}}},
 {"data":{"name":"err"},"transform":[{"filter":"datum.m=='g'"}],"mark":{"type":"errorbar","ticks":{"size":6,"thickness":1},"rule":{"strokeWidth":1}},"encoding":{"x":{"field":"E","type":"quantitative","title":null},"y":{"field":"lo","type":"quantitative","title":null},"y2":{"field":"hi"},"color":{"field":"c","type":"nominal","legend":null}}},
 {"data":{"values":[{}]},"mark":{"type":"text","align":"right"},"encoding":{"x":{"datum":0.393},"y":{"datum":2.15},"text":{"value":"(g)"}}},
 {"data":{"values":[{}]},"mark":{"type":"text","align":"left"},"encoding":{"x":{"datum":0.008},"y":{"datum":0.00137},"text":{"value":"TuQMD"}}},
 {"data":{"values":[{}]},"mark":{"type":"text","align":"left","baseline":"middle","font":"Liberation Serif"},"encoding":{"x":{"datum":0.019},"y":{"datum":1.53},"text":{"value":"π⁻"}}},
 {"data":{"values":[{}]},"mark":{"type":"text","align":"left","baseline":"middle","font":"Liberation Serif"},"encoding":{"x":{"datum":0.038},"y":{"datum":0.37},"text":{"value":"π⁺"}}}
]},
 {"data":{"values":[{}]},"mark":{"type":"point","opacity":0},"encoding":{"x":{"datum":0.2,"type":"quantitative","axis":{"orient":"top","labels":false,"values":[0,0.1,0.2,0.3,0.4],"title":null}},"y":{"datum":0.1,"type":"quantitative","axis":{"orient":"right","labels":false,"values":[1,0.1,0.01],"title":null}}}}
],"resolve":{"axis":{"x":"independent","y":"independent"}}}
],"spacing":49,"bounds":"flush","title":{"text":"Eₖ (GeV)","orient":"bottom","anchor":"middle","offset":9,"dx":-18}}
]
}
